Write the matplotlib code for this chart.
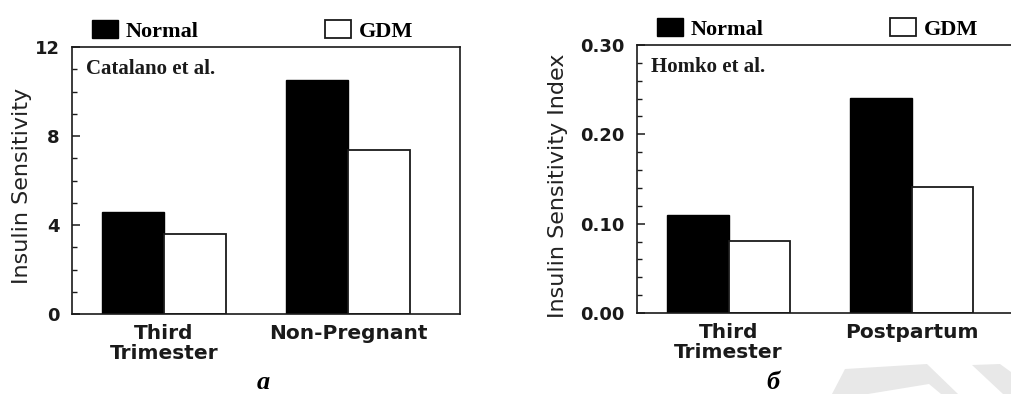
import matplotlib
matplotlib.use("Agg")
import matplotlib.pyplot as plt
from matplotlib.patches import Polygon
from matplotlib.ticker import MultipleLocator, FormatStrFormatter

# data
groups_a = ["Third\nTrimester", "Non-Pregnant"]
normal_a = [4.6, 10.5]
gdm_a = [3.6, 7.35]

groups_b = ["Third\nTrimester", "Postpartum"]
normal_b = [0.110, 0.241]
gdm_b = [0.081, 0.141]

W, H = 1011, 394
fig = plt.figure(figsize=(W / 100, H / 100), dpi=100)

serif = ["Liberation Serif", "DejaVu Serif"]
ink = "#1a1a1a"


def px_axes(left, top, right, bottom):
    return fig.add_axes([left / W, 1 - bottom / H, (right - left) / W, (bottom - top) / H])


def draw_panel(ax, groups, normal, gdm, ymax, major, minor, fmt, note):
    bw = 0.337
    x = range(len(groups))
    hn = ax.bar([i - bw / 2 for i in x], normal, width=bw, color="black",
                edgecolor="black", linewidth=1.0, label="Normal")
    hg = ax.bar([i + bw / 2 for i in x], gdm, width=bw, color="white",
                edgecolor=ink, linewidth=1.3, label="GDM")
    ax.set_xlim(-0.5, 1.609)
    ax.set_ylim(0, ymax)
    ax.yaxis.set_major_locator(MultipleLocator(major))
    ax.yaxis.set_minor_locator(MultipleLocator(minor))
    ax.yaxis.set_major_formatter(FormatStrFormatter(fmt))
    ax.tick_params(axis="y", which="major", direction="in", length=6, width=1.1,
                   pad=9, labelsize=13, colors=ink)
    ax.tick_params(axis="y", which="minor", direction="in", length=3.5, width=1.0, colors=ink)
    ax.set_xticks(list(x))
    ax.set_xticklabels(groups, linespacing=1.1)
    ax.tick_params(axis="x", length=0, pad=7, labelsize=14.5, colors=ink)
    for lab in ax.get_xticklabels() + ax.get_yticklabels():
        lab.set_fontfamily("DejaVu Sans")
        lab.set_fontweight("bold")
    for sp in ax.spines.values():
        sp.set_linewidth(1.2)
        sp.set_color(ink)
    ax.text(0.036, 0.955, note, transform=ax.transAxes, ha="left", va="top",
            fontsize=15, fontweight="bold", family=serif, color=ink)
    ax.legend(handles=[hn, hg], loc="lower left", bbox_to_anchor=(0.052, 1.02),
              ncol=2, frameon=False, borderpad=0, borderaxespad=0,
              handlelength=1.15, handleheight=0.9, handletextpad=0.36,
              columnspacing=5.7, prop={"family": serif, "weight": "bold", "size": 16})


ax1 = px_axes(72, 47, 460, 314)
draw_panel(ax1, groups_a, normal_a, gdm_a, 12, 4, 1, "%d", "Catalano et al.")

ax2 = px_axes(637, 45, 1023, 313)
draw_panel(ax2, groups_b, normal_b, gdm_b, 0.30, 0.10, 0.02, "%.2f", "Homko et al.")

fig.text(22 / W, 1 - 186 / H, "Insulin Sensitivity", rotation=90, ha="center", va="center",
         fontsize=16, family="DejaVu Sans", color="#222222")
fig.text(558 / W, 1 - 186 / H, "Insulin Sensitivity Index", rotation=90, ha="center",
         va="center", fontsize=16, family="DejaVu Sans", color="#222222")

fig.text(263 / W, 1 - 389 / H, "a", ha="center", va="baseline", fontsize=19,
         fontweight="bold", style="italic", family=serif)
fig.text(773 / W, 1 - 389 / H, "б", ha="center", va="baseline", fontsize=19,
         fontweight="bold", style="italic", family=serif)

# faint watermark pieces in the lower right corner
wm = [
    [(832, 394), (845, 369), (927, 364), (958, 394), (941, 394), (929, 384), (868, 394)],
    [(972, 365), (1000, 364), (1011, 372), (1011, 394), (1003, 394)],
]
for poly in wm:
    pts = [(px / W, 1 - py / H) for px, py in poly]
    fig.add_artist(Polygon(pts, closed=True, transform=fig.transFigure,
                           facecolor="#e8e8e8", edgecolor="none", zorder=-1))

fig.savefig("out.png", dpi=100)
